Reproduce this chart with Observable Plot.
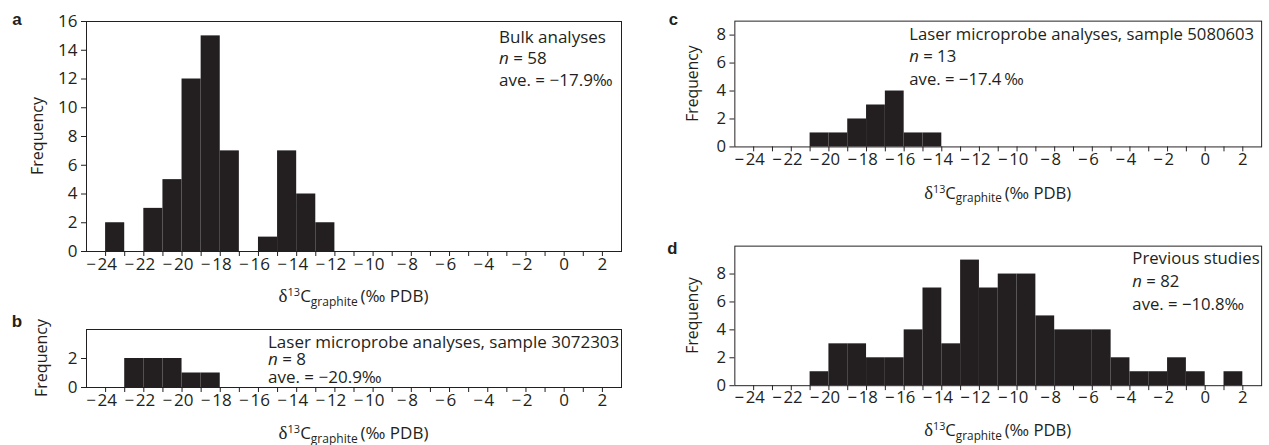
<!DOCTYPE html>
<html><head><meta charset="utf-8">
<script src="https://cdn.jsdelivr.net/npm/d3@7"></script>
<script src="https://cdn.jsdelivr.net/npm/@observablehq/plot@0.6"></script>
<style>
html,body{margin:0;padding:0;background:#fff;}
body{width:1269px;height:445px;overflow:hidden;position:relative;font-family:"Open Sans",sans-serif;}
.panel{position:absolute;}
</style></head><body>
<script>
// ---- tick values ----
const xTickValues = [-24,-23,-22,-21,-20,-19,-18,-17,-16,-15,-14,-13,-12,-11,-10,-9,-8,-7,-6,-5,-4,-3,-2,-1,0,1,2];
const xTickLabels = [-24,-22,-20,-18,-16,-14,-12,-10,-8,-6,-4,-2,0,2];
const aYTicks = [0,2,4,6,8,10,12,14,16];
const bYTicks = [0,2];
const cYTicks = [0,2,4,6,8];
const dYTicks = [0,2,4,6,8];

// ---- panel a: bulk analyses (bin start, frequency) ----
const aBinStart = [-24,-22,-21,-20,-19,-18,-16,-15,-14,-13];
const aFreq     = [2,3,5,12,15,7,1,7,4,2];
// ---- panel b: laser microprobe, sample 3072303 ----
const bBinStart = [-23,-22,-21,-20,-19];
const bFreq     = [2,2,2,1,1];
// ---- panel c: laser microprobe, sample 5080603 ----
const cBinStart = [-21,-20,-19,-18,-17,-16,-15];
const cFreq     = [1,1,2,3,4,1,1];
// ---- panel d: previous studies ----
const dBinStart = [-21,-20,-19,-18,-17,-16,-15,-14,-13,-12,-11,-10,-9,-8,-7,-6,-5,-4,-3,-2,-1,0,1];
const dFreq     = [1,3,3,2,2,4,7,3,9,7,8,8,5,4,4,4,2,1,1,2,1,0,1];

// ---- texts ----
const aNote = ["Bulk analyses", "58", "ave. = −17.9‰"];
const bNote = ["Laser microprobe analyses, sample 3072303", "8", "ave. = −20.9‰"];
const cNote = ["Laser microprobe analyses, sample 5080603", "13", "ave. = −17.4\u2009‰"];
const dNote = ["Previous studies", "82", "ave. = −10.8‰"];
const yLabel = "Frequency";

const INK = "#231f20";
const fmt = d => d < 0 ? "\u2212\u200a" + (-d) : String(d);

function panel(cfg) {
  const data = cfg.starts.map((s, i) => ({x1: s, x2: s + 1, y: cfg.counts[i]}));
  const svg = Plot.plot({
    width: cfg.width, height: cfg.height,
    marginLeft: cfg.mL, marginRight: cfg.mR, marginTop: cfg.mT, marginBottom: cfg.mB,
    style: {fontFamily: '"Open Sans", sans-serif', fontSize: "17px", color: INK, background: "transparent", overflow: "visible"},
    x: {domain: [-25, 3], label: null},
    y: {domain: cfg.yDomain, label: null},
    marks: [
      Plot.rect(data, {x1: "x1", x2: "x2", y1: 0, y2: "y", fill: INK}),
      Plot.frame({stroke: INK, strokeWidth: 1}),
      Plot.axisX(xTickValues, {tickSize: 5, tickFormat: () => "", label: null}),
      Plot.axisX(xTickLabels.filter(d => d < 0), {tickSize: 0, tickPadding: 6, dx: -4, tickFormat: fmt, label: null}),
      Plot.axisX(xTickLabels.filter(d => d >= 0), {tickSize: 0, tickPadding: 6, tickFormat: fmt, label: null}),
      Plot.axisY(cfg.yTicks, {tickSize: 5, tickPadding: 4, tickFormat: fmt, label: null})
    ]
  });
  d3.select(svg).selectAll("g[aria-label$='tick label']").attr("font-size", 17);
  const wrap = document.createElement("div");
  wrap.className = "panel";
  wrap.style.left = cfg.left + "px";
  wrap.style.top = cfg.top + "px";
  wrap.appendChild(svg);
  document.body.appendChild(wrap);

  const g = d3.select(svg).append("g").attr("fill", INK);
  const L = v => v - cfg.left, T = v => v - cfg.top;
  // panel letter
  g.append("text").attr("x", L(cfg.letterX)).attr("y", T(cfg.letterY))
    .attr("text-anchor", "middle").attr("font-family", '"Liberation Sans", Arial, sans-serif')
    .attr("font-weight", "bold").attr("font-size", 17).text(cfg.letter);
  // y label
  g.append("text").attr("transform", `translate(${L(cfg.ylabX)},${T(cfg.ylabY)}) rotate(-90)`)
    .attr("text-anchor", "middle").attr("font-size", 16).text(yLabel);
  // x label
  const xl = g.append("text").attr("x", L(cfg.xlabX)).attr("y", T(cfg.xlabY))
    .attr("text-anchor", "middle").attr("font-size", 17);
  xl.append("tspan").attr("font-family", '"Liberation Serif", serif').attr("font-size", 19).text("δ");
  xl.append("tspan").attr("font-size", 11).attr("dy", -6).text("13");
  xl.append("tspan").attr("dy", 6).text("C");
  xl.append("tspan").attr("font-size", 12).attr("dy", 4).text("graphite");
  xl.append("tspan").attr("dy", -4).text("\u2009(‰ PDB)");
  // annotation
  const n = cfg.note;
  const ann = g.append("g").attr("text-anchor", "start").attr("font-size", 17);
  ann.append("text").attr("x", L(cfg.noteX)).attr("y", T(cfg.noteY[0])).text(n[0]);
  const t2 = ann.append("text").attr("x", L(cfg.noteX)).attr("y", T(cfg.noteY[1]));
  t2.append("tspan").attr("font-style", "italic").text("n");
  t2.append("tspan").text(" = " + n[1]);
  ann.append("text").attr("x", L(cfg.noteX)).attr("y", T(cfg.noteY[2])).text(n[2]);
}

panel({starts: aBinStart, counts: aFreq, yDomain: [0, 16], yTicks: aYTicks,
  left: 0, top: 0, width: 640, height: 308, mL: 86, mR: 19, mT: 21, mB: 57,
  letter: "a", letterX: 17, letterY: 25, ylabX: 43, ylabY: 136, xlabX: 353.5, xlabY: 302,
  note: aNote, noteX: 499, noteY: [42.5, 64, 85.5]});
panel({starts: bBinStart, counts: bFreq, yDomain: [0, 4], yTicks: bYTicks,
  left: 0, top: 308, width: 640, height: 137, mL: 86, mR: 19, mT: 21, mB: 58,
  letter: "b", letterX: 17, letterY: 327, ylabX: 47, ylabY: 358, xlabX: 353.5, xlabY: 439,
  note: bNote, noteX: 268, noteY: [348, 365, 382.5]});
panel({starts: cBinStart, counts: cFreq, yDomain: [0, 9], yTicks: cYTicks,
  left: 640, top: 0, width: 640, height: 215, mL: 96, mR: 8, mT: 21, mB: 66,
  letter: "c", letterX: 674, letterY: 25, ylabX: 699, ylabY: 85, xlabX: 1004, xlabY: 202,
  note: cNote, noteX: 914, noteY: [40.7, 63.3, 86]});
panel({starts: dBinStart, counts: dFreq, yDomain: [0, 10], yTicks: dYTicks,
  left: 640, top: 225, width: 640, height: 220, mL: 96, mR: 8, mT: 21, mB: 57,
  letter: "d", letterX: 673, letterY: 254, ylabX: 699, ylabY: 317, xlabX: 1004, xlabY: 440,
  note: dNote, noteX: 1141, noteY: [265, 288, 311]});
</script>
</body></html>
